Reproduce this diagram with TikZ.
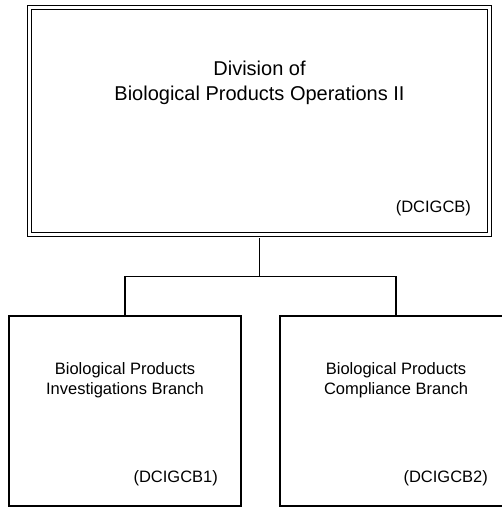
\documentclass[tikz,border=0pt]{standalone}
\usepackage{fontspec}
\setmainfont{Liberation Sans}
\begin{document}
\begin{tikzpicture}
      [x=1pt,y=-1pt,line width=1.5pt,
      top node/.style={rectangle,draw,double,double distance=2.8pt,line width=1.4pt,
        minimum width=460pt,minimum height=227pt,inner sep=0pt},
      branch node/.style={rectangle,draw,line width=1.5pt,
        minimum width=232pt,minimum height=190pt,inner sep=0pt},
      title text/.style={align=center,font=\fontsize{20}{25}\selectfont},
      branch text/.style={align=center,font=\fontsize{16.5}{20}\selectfont},
      code text/.style={anchor=east,font=\fontsize{16.5}{20}\selectfont}]
      \useasboundingbox (0,0) rectangle (502,507);
      \clip (0,0) rectangle (502,507);
      \node[top node] (div) at (259.5,121) { };
      \node[branch node] (inv) at (125,411) { };
      \node[branch node] (comp) at (396,411) { };
      \node[title text] (divname) at (259.5,83) {Division of\\Biological Products Operations II};
      \node[code text] (divcode) at (475,208) {(DCIGCB)};
      \node[branch text] (invname) at (125,380) {Biological Products\\Investigations Branch};
      \node[code text] (invcode) at (222,478) {(DCIGCB1)};
      \node[branch text] (compname) at (396,380) {Biological Products\\Compliance Branch};
      \node[code text] (compcode) at (492,478) {(DCIGCB2)};
      \coordinate (split) at (259.5,276.5);
      \draw[shorten <=2.8pt] (div.south) -- (split);
      \draw (split) -| (inv.north);
      \draw (split) -| (comp.north);
    \end{tikzpicture}
\end{document}
